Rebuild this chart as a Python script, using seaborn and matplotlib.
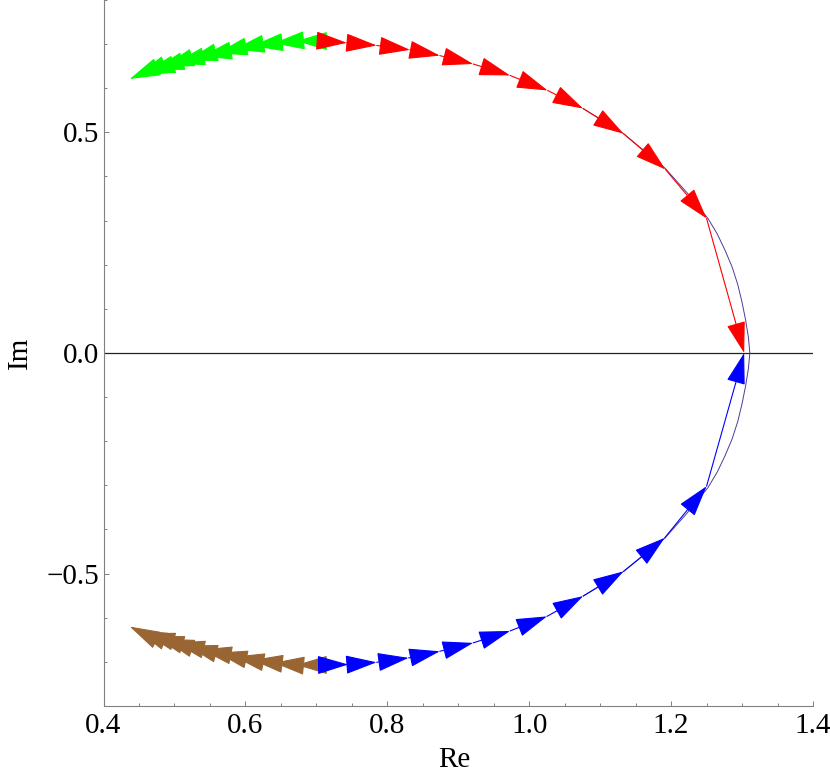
import matplotlib
matplotlib.use("Agg")
import matplotlib.pyplot as plt
from matplotlib.ticker import MultipleLocator, FixedLocator
import seaborn as sns
import pandas as pd

# ---- data ----
red_x = [0.707, 0.743, 0.785, 0.832, 0.874, 0.921, 0.973, 1.026, 1.076, 1.133, 1.192, 1.250, 1.303]
red_y = [0.707, 0.703, 0.697, 0.687, 0.674, 0.655, 0.629, 0.595, 0.554, 0.497, 0.416, 0.305, 0.000]

blue_x = [0.707, 0.745, 0.785, 0.830, 0.874, 0.921, 0.973, 1.025, 1.076, 1.133, 1.191, 1.250, 1.303]
blue_y = [-0.707, -0.706, -0.701, -0.691, -0.676, -0.657, -0.630, -0.597, -0.551, -0.495, -0.419, -0.302, 0.000]

green_x = [0.707, 0.672, 0.640, 0.610, 0.584, 0.560, 0.538, 0.518, 0.500, 0.485, 0.471, 0.458, 0.447, 0.437]
green_y = [0.707, 0.707, 0.702, 0.696, 0.688, 0.679, 0.672, 0.663, 0.656, 0.648, 0.641, 0.635, 0.628, 0.621]

brown_x = [0.707, 0.672, 0.640, 0.610, 0.584, 0.560, 0.538, 0.518, 0.500, 0.485, 0.471, 0.458, 0.447, 0.437]
brown_y = [-0.707, -0.707, -0.702, -0.696, -0.688, -0.679, -0.672, -0.663, -0.656, -0.648, -0.641, -0.635, -0.628, -0.620]

curve_x = [1.076, 1.133, 1.192, 1.222, 1.252, 1.265, 1.276, 1.286, 1.294, 1.300, 1.305, 1.309, 1.311,
           1.309, 1.305, 1.300, 1.294, 1.286, 1.276, 1.265, 1.252, 1.222, 1.191, 1.133, 1.076]
curve_y = [0.554, 0.497, 0.418, 0.364, 0.305, 0.270, 0.233, 0.195, 0.155, 0.115, 0.075, 0.035, 0.000,
           -0.035, -0.075, -0.115, -0.155, -0.195, -0.233, -0.270, -0.305, -0.364, -0.420, -0.495, -0.551]

x_ticks = [0.4, 0.6, 0.8, 1.0, 1.2, 1.4]
x_labels = ["0.4", "0.6", "0.8", "1.0", "1.2", "1.4"]
y_ticks = [-0.5, 0.0, 0.5]
y_labels = ["\u22120.5", "0.0", "0.5"]

# ---- style ----
sns.set_theme(style="white")
plt.rcParams["font.family"] = ["Liberation Serif", "DejaVu Serif"]

fig = plt.figure(figsize=(8.3, 7.8), dpi=100)
ax = fig.add_axes([0.1247, 0.0949, 0.8548, 0.9051])

curve = pd.DataFrame({"x": curve_x, "y": curve_y})
sns.lineplot(data=curve, x="x", y="y", sort=False, estimator=None,
             color="#4A3D99", lw=0.7, ax=ax, zorder=2)

ax.axhline(0.0, color="#222222", lw=0.9, zorder=1)


def draw_arrows(xs, ys, color):
    for i in range(len(xs) - 1):
        ax.annotate("", xy=(xs[i + 1], ys[i + 1]), xytext=(xs[i], ys[i]),
                    xycoords="data", textcoords="data",
                    arrowprops=dict(arrowstyle="-|>,head_length=1.0,head_width=0.3",
                                    mutation_scale=20, color=color, lw=0.8,
                                    shrinkA=0, shrinkB=0), zorder=3)


draw_arrows(green_x, green_y, "#00FF00")
draw_arrows(red_x, red_y, "#FF0000")
draw_arrows(brown_x, brown_y, "#996633")
draw_arrows(blue_x, blue_y, "#0000FF")

ax.set_xlim(0.4, 1.4)
ax.set_ylim(-0.8, 0.8)

for s in ["top", "right"]:
    ax.spines[s].set_visible(False)
for s in ["left", "bottom"]:
    ax.spines[s].set_color("#808080")
    ax.spines[s].set_linewidth(0.8)

ax.xaxis.set_major_locator(FixedLocator(x_ticks))
ax.set_xticklabels(x_labels)
ax.yaxis.set_major_locator(FixedLocator(y_ticks))
ax.set_yticklabels(y_labels)
ax.xaxis.set_minor_locator(MultipleLocator(0.05))
ax.yaxis.set_minor_locator(MultipleLocator(0.1))

ax.tick_params(which="both", direction="in", color="#808080", width=0.7,
               bottom=True, left=True, top=False, right=False)
ax.tick_params(which="major", length=3.8, labelsize=21, labelcolor="black")
ax.tick_params(which="minor", length=2.0)
ax.tick_params(axis="x", which="major", pad=5)
ax.tick_params(axis="y", which="major", pad=3)

ax.set_xlabel("Re", fontsize=21, color="black")
ax.set_ylabel("Im", fontsize=21, color="black")
ax.xaxis.set_label_coords(0.495, -0.058)
ax.yaxis.set_label_coords(-0.100, 0.5)

fig.savefig("out.png", dpi=100)
